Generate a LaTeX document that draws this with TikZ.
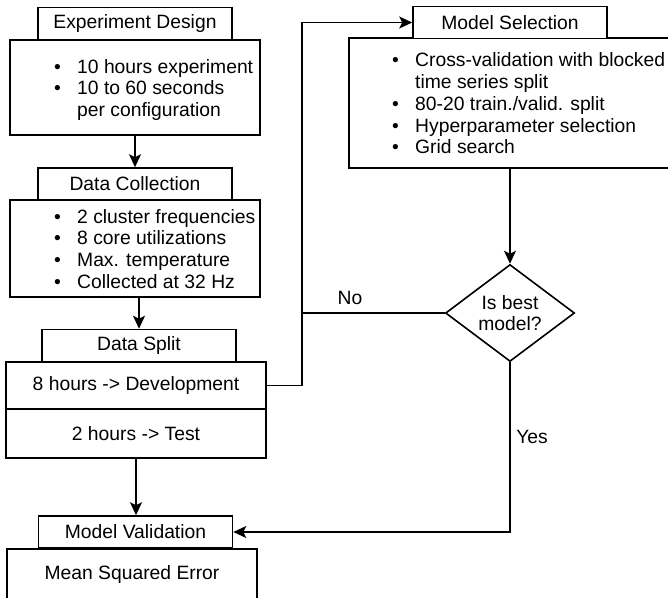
\documentclass[tikz,border=0pt]{standalone}
\usepackage{fontspec}
\setmainfont{Liberation Sans}
\usetikzlibrary{arrows.meta,shapes.geometric}

\newcommand{\itm}{\makebox[23pt][l]{\textbullet}}

\begin{document}
\begin{tikzpicture}
[%%%%%%%%%%%%%%%%%%%%%%%%%%%%%%
x=1pt,y=-1pt,
every node/.style={font=\fontsize{19.3}{21.7}\selectfont},
head/.style={rectangle,draw=black,line width=1.6pt,minimum width=194pt,minimum height=32pt,inner sep=0pt},
bodybox/.style={rectangle,draw=black,line width=1.6pt,minimum width=250pt,inner sep=0pt},
list/.style={anchor=west,inner sep=0pt,align=left},
decide/.style={diamond,draw=black,line width=1.6pt,aspect=1.33,inner sep=0pt,minimum width=129pt,minimum height=97pt,align=center},
arr/.style={line width=1.6pt,-{Stealth[length=13pt,width=12pt,inset=3pt]}},
line/.style={line width=1.6pt},
]%%%%%%%%%%%%%%%%%%%%%%%%%%%%%%
\useasboundingbox (0,0) rectangle (668,597);

% left column
\node[bodybox,minimum height=95pt] (edbody) at (135,87.5){};
\node[head,fill=white] (edhead) at (135,23.5){Experiment Design};
\node[list] (edlist) at (54,90.5){\begin{tabular}{@{}l@{}}
\itm 10 hours experiment\\
\itm 10 to 60 seconds\\
\makebox[23pt]{}per configuration
\end{tabular}};

\node[bodybox,minimum height=97pt] (dcbody) at (135,248.5){};
\node[head,fill=white] (dchead) at (135,184){Data Collection};
\node[list] (dclist) at (54,251.5){\begin{tabular}{@{}l@{}}
\itm 2 cluster frequencies\\
\itm 8 core utilizations\\
\itm Max. temperature\\
\itm Collected at 32 Hz
\end{tabular}};

\node[head] (dshead) at (139,345.5){Data Split};
\node[bodybox,minimum width=260pt,minimum height=47pt] (dev) at (136,385.5){8 hours -> Development};
\node[bodybox,minimum width=260pt,minimum height=49pt] (test) at (136,433.5){2 hours -> Test};

\node[bodybox,minimum height=51pt] (mse) at (132,574.5){Mean Squared Error};
\node[head,fill=white] (mvhead) at (135.5,532){Model Validation};

% right column
\node[bodybox,minimum width=322pt,minimum height=130pt] (msbody) at (510,103){};
\node[head,fill=white] (mshead) at (510,22.5){Model Selection};
\node[list] (mslist) at (392,106){\begin{tabular}{@{}l@{}}
\itm Cross-validation with blocked\\
\makebox[23pt]{}time series split\\
\itm 80-20 train./valid. split\\
\itm Hyperparameter selection\\
\itm Grid search
\end{tabular}};

\node[decide] (best) at (510,313){Is best\\model?};

\coordinate (loop) at (302,0);

% connectors
\draw[arr] (edbody) -- (dchead);
\draw[arr] (dshead.north |- dcbody.south) -- (dshead);
\draw[arr] (test) -- (test |- mvhead.north);
\draw[arr] (dev.east) -- (dev.east -| loop) |- (mshead.west);
\draw[arr] (msbody.south -| best) -- (best);
\draw[line] (best.west) -- (best.west -| loop);
\draw[arr] (best.south) |- (mvhead.east);

\node (no) at (350,298){No};
\node (yes) at (532,437){Yes};
\end{tikzpicture}
\end{document}
